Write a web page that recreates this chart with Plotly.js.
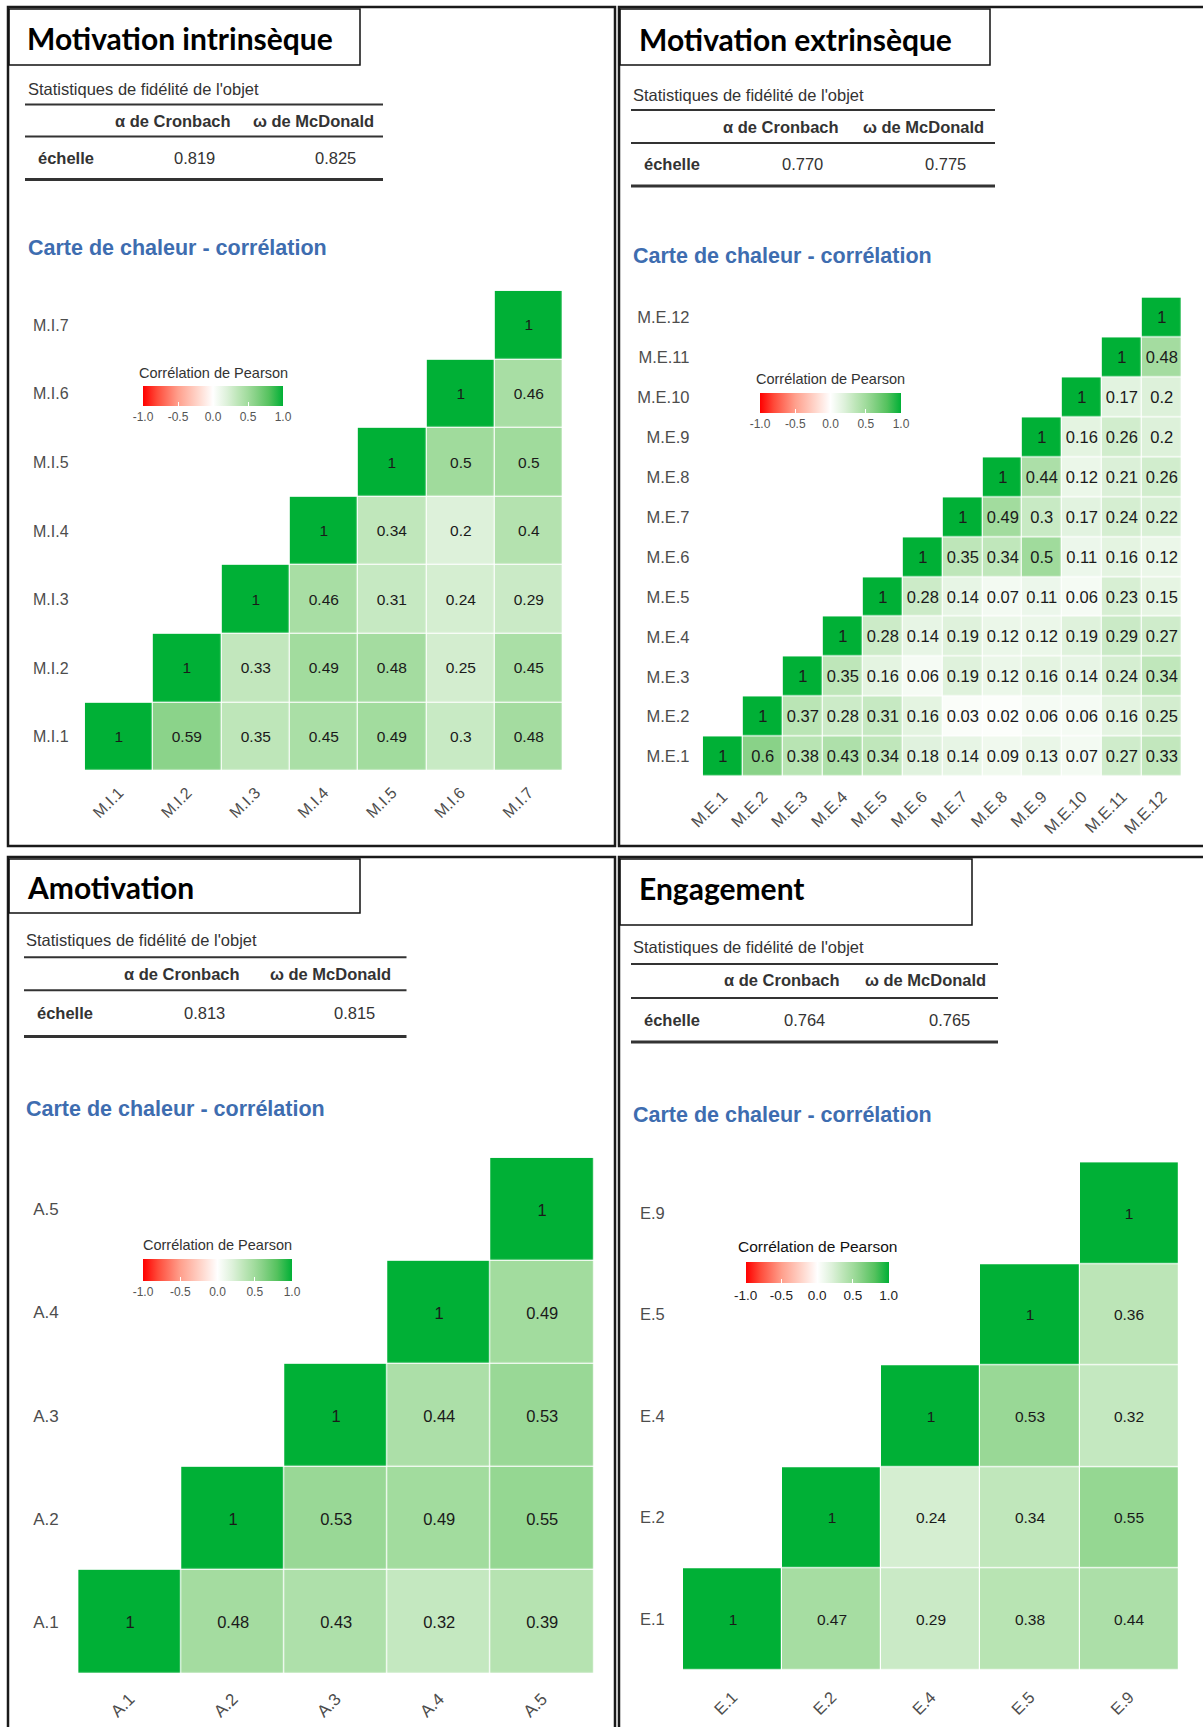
<!DOCTYPE html>
<html><head><meta charset="utf-8">
<script src="https://cdn.plot.ly/plotly-3.0.1.min.js"></script>
<style>html,body{margin:0;padding:0;background:#fff;} #chart{width:1203px;height:1727px;}</style>
</head><body><div id="chart"></div>
<script>
// ---------------- DATA ----------------
const MI_labels = ['M.I.1','M.I.2','M.I.3','M.I.4','M.I.5','M.I.6','M.I.7'];
// each row lists the correlations from the diagonal to the last column
const MI_rows = [
  [1, 0.59, 0.35, 0.45, 0.49, 0.3, 0.48],
  [1, 0.33, 0.49, 0.48, 0.25, 0.45],
  [1, 0.46, 0.31, 0.24, 0.29],
  [1, 0.34, 0.2, 0.4],
  [1, 0.5, 0.5],
  [1, 0.46],
  [1]
];
const ME_labels = ['M.E.1','M.E.2','M.E.3','M.E.4','M.E.5','M.E.6','M.E.7','M.E.8','M.E.9','M.E.10','M.E.11','M.E.12'];
const ME_rows = [
  [1, 0.6, 0.38, 0.43, 0.34, 0.18, 0.14, 0.09, 0.13, 0.07, 0.27, 0.33],
  [1, 0.37, 0.28, 0.31, 0.16, 0.03, 0.02, 0.06, 0.06, 0.16, 0.25],
  [1, 0.35, 0.16, 0.06, 0.19, 0.12, 0.16, 0.14, 0.24, 0.34],
  [1, 0.28, 0.14, 0.19, 0.12, 0.12, 0.19, 0.29, 0.27],
  [1, 0.28, 0.14, 0.07, 0.11, 0.06, 0.23, 0.15],
  [1, 0.35, 0.34, 0.5, 0.11, 0.16, 0.12],
  [1, 0.49, 0.3, 0.17, 0.24, 0.22],
  [1, 0.44, 0.12, 0.21, 0.26],
  [1, 0.16, 0.26, 0.2],
  [1, 0.17, 0.2],
  [1, 0.48],
  [1]
];
const A_labels = ['A.1','A.2','A.3','A.4','A.5'];
const A_rows = [
  [1, 0.48, 0.43, 0.32, 0.39],
  [1, 0.53, 0.49, 0.55],
  [1, 0.44, 0.53],
  [1, 0.49],
  [1]
];
const E_labels = ['E.1','E.2','E.4','E.5','E.9'];
const E_rows = [
  [1, 0.47, 0.29, 0.38, 0.44],
  [1, 0.24, 0.34, 0.55],
  [1, 0.53, 0.32],
  [1, 0.36],
  [1]
];
const panelTitles = ['Motivation intrinsèque', 'Motivation extrinsèque', 'Amotivation', 'Engagement'];
const cronbach = [0.819, 0.770, 0.813, 0.764];
const mcdonald = [0.825, 0.775, 0.815, 0.765];
const legendTicks = [-1, -0.5, 0, 0.5, 1];
const legendTickText = ['-1.0', '-0.5', '0.0', '0.5', '1.0'];

// ---------------- LAYOUT CONFIG ----------------
const W = 1203, H = 1727;
const fx = x => x / W, fy = y => 1 - y / H;
const sans = 'Liberation Sans, Arial, sans-serif';
const titleFont = 'Lato, Carlito, sans-serif';

const colorscale = [
  [0, '#FF0000'], [0.1, '#FF4B3A'], [0.25, '#FF9F8C'], [0.4, '#FFD9CF'], [0.5, '#FFFFFF'],
  [0.6, '#DDF1DA'], [0.675, '#BEE6B9'], [0.75, '#A0DB9C'], [0.8, '#89D288'], [0.9, '#55C25E'], [1, '#00B036']
];

const cfg = [
  {labels: MI_labels, rows: MI_rows, frame: [8, 615, 7, 846], tbox: [9, 360, 9, 65], tX: 25, tY: 38,
   capX: 26, capY: 89, rule: [25, 383], r1: 104.6, hY: 121, r2: 136.6, rY: 157.5, r3: 179.6,
   aX: 173, oX: 313, eX: 36, avX: 194, ovX: 335, carteX: 26, carteY: 248,
   hm: [84.8, 562.9, 290.8, 771.1], ylen: 12, xlen: 5, tick: 16, cell: 15.5,
   cb: [143, 283, 386, 406], cbT: 372.7, cbTitleSize: 14.5, cbTick: 12, cbCol: '#333', cbTickCol: '#555'},
  {labels: ME_labels, rows: ME_rows, frame: [619, 1215, 7, 846], tbox: [620, 990, 9, 65], tX: 637, tY: 39,
   capX: 631, capY: 94.7, rule: [631, 995], r1: 110, hY: 126.7, r2: 143, rY: 164, r3: 186,
   aX: 781, oX: 923, eX: 642, avX: 802, ovX: 946, carteX: 631, carteY: 255.6,
   hm: [702.8, 1182, 297.4, 776.6], ylen: 9, xlen: 3, tick: 16.5, cell: 16.5,
   cb: [760, 901, 393, 413], cbT: 378.7, cbTitleSize: 14.5, cbTick: 12, cbCol: '#333', cbTickCol: '#555'},
  {labels: A_labels, rows: A_rows, frame: [8, 615, 857, 1740], tbox: [9, 360, 859, 913], tX: 25, tY: 887,
   capX: 24, capY: 939.7, rule: [24, 406.5], r1: 957.3, hY: 973.8, r2: 990.3, rY: 1013.5, r3: 1036.6,
   aX: 182, oX: 330.5, eX: 35, avX: 204, ovX: 354.7, carteX: 24, carteY: 1109.3,
   hm: [78.2, 593.8, 1157.8, 1673.3], ylen: 15, xlen: 8, tick: 17, cell: 16.5,
   cb: [143, 292, 1259, 1281], cbT: 1244.8, cbTitleSize: 14.5, cbTick: 12, cbCol: '#333', cbTickCol: '#555'},
  {labels: E_labels, rows: E_rows, frame: [619, 1215, 857, 1740], tbox: [620, 972, 859, 925], tX: 637, tY: 888,
   capX: 631, capY: 947.4, rule: [631, 998], r1: 964, hY: 980.4, r2: 998, rY: 1020, r3: 1042,
   aX: 782, oX: 926, eX: 642, avX: 804, ovX: 949.6, carteX: 631, carteY: 1114.8,
   hm: [683, 1178.7, 1162.2, 1670], ylen: 14, xlen: 10, tick: 16.5, cell: 15.5,
   cb: [745.7, 888.7, 1262, 1283], cbT: 1246.7, cbTitleSize: 15.5, cbTick: 13.5, cbCol: '#111', cbTickCol: '#222'}
];

const traces = [], shapes = [], annotations = [];
const layout = {
  width: W, height: H, margin: {l: 0, r: 0, t: 0, b: 0},
  paper_bgcolor: '#fff', plot_bgcolor: '#fff', showlegend: false,
  shapes: shapes, annotations: annotations
};

function line(x0, x1, y0, y1, w, c) {
  shapes.push({type: 'line', xref: 'paper', yref: 'paper', x0: fx(x0), x1: fx(x1), y0: fy(y0), y1: fy(y1),
    line: {width: w, color: c}});
}
function rect(x0, x1, y0, y1, w, c) {
  shapes.push({type: 'rect', xref: 'paper', yref: 'paper', x0: fx(x0), x1: fx(x1), y0: fy(y0), y1: fy(y1),
    line: {width: w, color: c}, fillcolor: 'rgba(0,0,0,0)'});
}
function text(t, x, y, size, color, anchor, bold, family) {
  annotations.push({text: bold ? '<b>' + t + '</b>' : t, xref: 'paper', yref: 'paper', x: fx(x), y: fy(y),
    xanchor: anchor, yanchor: 'middle', showarrow: false,
    font: {size: size, color: color, family: family || sans}});
}

cfg.forEach((p, i) => {
  const n = p.labels.length;
  const z = [], t = [];
  for (let r = 0; r < n; r++) {
    const zr = [], tr = [];
    for (let c = 0; c < n; c++) {
      if (c >= r) { const v = p.rows[r][c - r]; zr.push(v); tr.push(String(v)); }
      else { zr.push(null); tr.push(''); }
    }
    z.push(zr); t.push(tr);
  }
  const sx = i === 0 ? '' : String(i + 1);
  traces.push({
    type: 'heatmap', x: p.labels, y: p.labels, z: z, text: t, texttemplate: '%{text}',
    textfont: {size: p.cell, color: '#1a1a1a', family: sans},
    colorscale: colorscale, zmin: -1, zmax: 1, xgap: 1.2, ygap: 1.2,
    hoverinfo: 'skip', xaxis: 'x' + sx, yaxis: 'y' + sx,
    showscale: true,
    colorbar: {
      orientation: 'h', x: fx(p.cb[0]), xanchor: 'left', y: fy(p.cb[2]), yanchor: 'top',
      len: p.cb[1] - p.cb[0], lenmode: 'pixels', thickness: p.cb[3] - p.cb[2], thicknessmode: 'pixels',
      xpad: 0, ypad: 0, outlinewidth: 0, bgcolor: 'rgba(0,0,0,0)',
      tickmode: 'array', tickvals: legendTicks, ticktext: legendTickText,
      ticks: 'inside', ticklen: 4, tickcolor: '#fff', tickwidth: 1,
      tickfont: {size: p.cbTick, color: p.cbTickCol, family: sans},
      title: {text: ''}
    }
  });
  layout['xaxis' + sx] = {
    domain: [fx(p.hm[0]), fx(p.hm[1])], anchor: 'y' + sx, type: 'category',
    tickangle: -45, ticks: 'outside', ticklen: p.xlen, tickcolor: 'rgba(0,0,0,0)',
    tickfont: {size: p.tick, color: '#4D4D4D', family: sans},
    showgrid: false, zeroline: false, showline: false, fixedrange: true
  };
  layout['yaxis' + sx] = {
    domain: [fy(p.hm[3]), fy(p.hm[2])], anchor: 'x' + sx, type: 'category',
    ticks: 'outside', ticklen: p.ylen, tickcolor: 'rgba(0,0,0,0)',
    tickfont: {size: p.tick, color: '#4D4D4D', family: sans},
    showgrid: false, zeroline: false, showline: false, fixedrange: true
  };

  // frames
  rect(p.frame[0], p.frame[1], p.frame[2], p.frame[3], 2.5, '#1a1a1a');
  rect(p.tbox[0], p.tbox[1], p.tbox[2], p.tbox[3], 1.5, '#111');
  text(panelTitles[i], p.tX, p.tY, 30, '#000', 'left', true, titleFont);
  // reliability table
  text("Statistiques de fidélité de l'objet", p.capX, p.capY, 16.5, '#333', 'left', false);
  line(p.rule[0], p.rule[1], p.r1, p.r1, 2, '#333');
  text('α de Cronbach', p.aX, p.hY, 16.5, '#333', 'center', true);
  text('ω de McDonald', p.oX, p.hY, 16.5, '#333', 'center', true);
  line(p.rule[0], p.rule[1], p.r2, p.r2, 2, '#333');
  text('échelle', p.eX, p.rY, 16.5, '#333', 'left', true);
  text(cronbach[i].toFixed(3), p.avX, p.rY, 16.5, '#333', 'center', false);
  text(mcdonald[i].toFixed(3), p.ovX, p.rY, 16.5, '#333', 'center', false);
  line(p.rule[0], p.rule[1], p.r3, p.r3, 3, '#333');
  // heatmap title
  text('Carte de chaleur - corrélation', p.carteX, p.carteY, 21.5, '#3E6DB0', 'left', true);
  // legend title
  text('Corrélation de Pearson', (p.cb[0] + p.cb[1]) / 2, p.cbT, p.cbTitleSize, p.cbCol, 'center', false);
});

Plotly.newPlot('chart', traces, layout, {staticPlot: true, displayModeBar: false});
</script></body></html>
